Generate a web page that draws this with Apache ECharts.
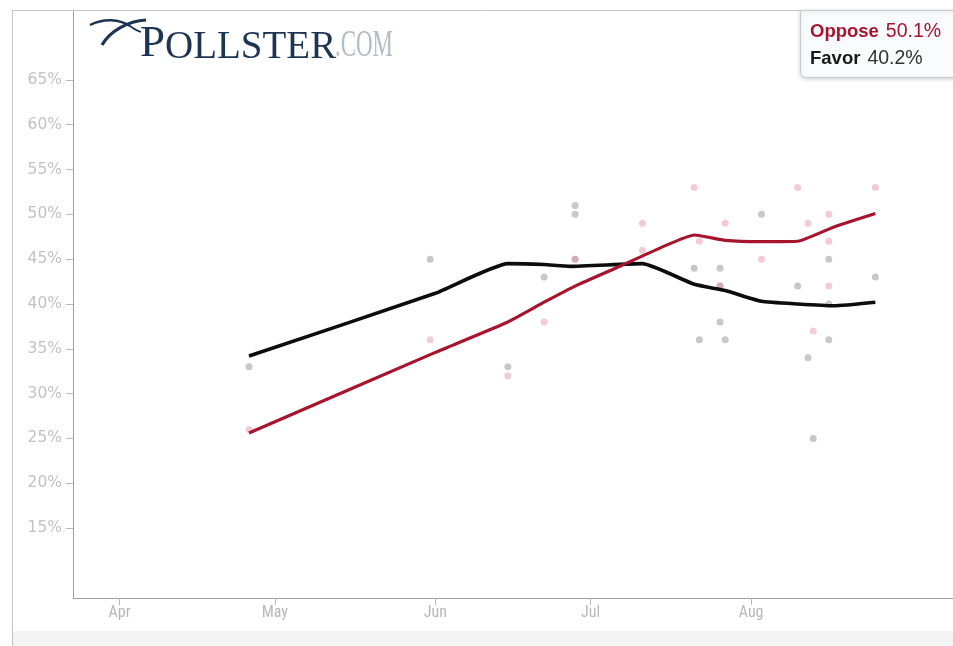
<!DOCTYPE html>
<html>
<head>
<meta charset="utf-8">
<style>
html,body{margin:0;padding:0;background:#fff;}
#chart{width:953px;height:646px;}
</style>
<script src="https://cdn.jsdelivr.net/npm/echarts@6/dist/echarts.min.js"></script>
</head>
<body>
<div id="chart"></div>
<script>
// ---- data ----
const monthTicks = ['2009-04-01', '2009-05-01', '2009-06-01', '2009-07-01', '2009-08-01'];
const monthLabels = ['Apr', 'May', 'Jun', 'Jul', 'Aug'];
const yTicks = [15, 20, 25, 30, 35, 40, 45, 50, 55, 60, 65];

const favorTrendDates = ['2009-04-26', '2009-06-01', '2009-06-15', '2009-06-22', '2009-06-27', '2009-07-11', '2009-07-21', '2009-07-27', '2009-08-03', '2009-08-10', '2009-08-17', '2009-08-25'];
const favorTrendValues = [34.2, 41.2, 44.5, 44.4, 44.2, 44.5, 42.2, 41.5, 40.3, 40.0, 39.8, 40.2];

const opposeTrendDates = ['2009-04-26', '2009-06-01', '2009-06-15', '2009-06-22', '2009-06-28', '2009-07-07', '2009-07-15', '2009-07-21', '2009-07-27', '2009-08-03', '2009-08-10', '2009-08-17', '2009-08-25'];
const opposeTrendValues = [25.6, 34.6, 38.0, 40.2, 42.0, 44.3, 46.4, 47.7, 47.1, 46.95, 47.0, 48.6, 50.1];

const favorPollDates = ['2009-04-26', '2009-05-31', '2009-06-15', '2009-06-22', '2009-06-28', '2009-06-28', '2009-06-28', '2009-07-21', '2009-07-22', '2009-07-26', '2009-07-26', '2009-07-26', '2009-07-27', '2009-08-03', '2009-08-10', '2009-08-12', '2009-08-13', '2009-08-16', '2009-08-16', '2009-08-16', '2009-08-25'];
const favorPollValues = [33, 45, 33, 43, 51, 50, 45, 44, 36, 44, 42, 38, 36, 50, 42, 34, 25, 45, 40, 36, 43];

const opposePollDates = ['2009-04-26', '2009-05-31', '2009-06-15', '2009-06-22', '2009-06-28', '2009-07-11', '2009-07-11', '2009-07-21', '2009-07-22', '2009-07-26', '2009-07-27', '2009-08-03', '2009-08-10', '2009-08-12', '2009-08-13', '2009-08-16', '2009-08-16', '2009-08-16', '2009-08-25'];
const opposePollValues = [26, 36, 32, 38, 45, 49, 46, 53, 47, 42, 49, 45, 53, 49, 37, 50, 47, 42, 53];

const xMin = '2009-03-23';
const xMax = '2009-09-09';
const yMin = 7.2;
const yMax = 72.8;

// ---- helpers ----
function ts(s) { const p = s.split('-').map(Number); return Date.UTC(p[0], p[1] - 1, p[2]); }
function pairs(d, v) { return d.map((x, i) => [ts(x), v[i]]); }
const monthTickTimes = monthTicks.map(ts);

const chart = echarts.init(document.getElementById('chart'), null, { renderer: 'canvas' });

const navy = '#1c3553';
const red = '#a8142e';
const serif = '"Liberation Serif", "Times New Roman", serif';
const sans = '"Liberation Sans", Arial, sans-serif';
const lastOppose = opposeTrendValues[opposeTrendValues.length - 1];
const lastFavor = favorTrendValues[favorTrendValues.length - 1];

const option = {
  animation: false,
  backgroundColor: '#ffffff',
  grid: { left: 73, right: 0, top: 10, bottom: 48, containLabel: false },
  xAxis: {
    type: 'value',
    min: ts(xMin),
    max: ts(xMax),
    axisLine: { show: true, lineStyle: { color: '#a0a0a0', width: 1 } },
    axisTick: { show: true, customValues: monthTickTimes, length: 7, lineStyle: { color: '#b8b8b8' } },
    axisLabel: {
      customValues: monthTickTimes,
      margin: 7,
      color: '#b8b8b8',
      fontSize: 16,
      fontFamily: '"Liberation Sans Narrow", "Roboto Condensed", "DejaVu Sans Condensed", sans-serif',
      formatter: function (v) {
        let best = -1, bd = Infinity;
        monthTickTimes.forEach((t, i) => { const d = Math.abs(t - v); if (d < bd) { bd = d; best = i; } });
        return bd < 86400000 * 3 ? monthLabels[best] : '';
      }
    },
    splitLine: { show: false }
  },
  yAxis: {
    type: 'value',
    min: yMin,
    max: yMax,
    axisLine: { show: true, lineStyle: { color: '#a0a0a0', width: 1 } },
    axisTick: { show: true, customValues: yTicks, length: 7, lineStyle: { color: '#b8b8b8' } },
    axisLabel: {
      customValues: yTicks,
      margin: 11,
      color: '#c2c2c2',
      fontSize: 15.5,
      fontFamily: '"DejaVu Sans", sans-serif',
      formatter: function (v) { return Math.round(v) + '%'; }
    },
    splitLine: { show: false }
  },
  series: [
    {
      name: 'FavorPolls', type: 'scatter', data: pairs(favorPollDates, favorPollValues),
      symbolSize: 7, itemStyle: { color: 'rgba(140,140,140,0.6)' }, z: 2
    },
    {
      name: 'OpposePolls', type: 'scatter', data: pairs(opposePollDates, opposePollValues),
      symbolSize: 7, itemStyle: { color: 'rgba(228,135,160,0.55)' }, z: 2
    },
    {
      name: 'Favor', type: 'line', data: pairs(favorTrendDates, favorTrendValues),
      showSymbol: false, smooth: 0.15, lineStyle: { color: '#0d0d0d', width: 3.6 }, z: 3
    },
    {
      name: 'Oppose', type: 'line', data: pairs(opposeTrendDates, opposeTrendValues),
      showSymbol: false, smooth: 0.15, lineStyle: { color: red, width: 3.2 }, z: 4
    }
  ],
  graphic: [
    { type: 'line', shape: { x1: 12.5, y1: 10.5, x2: 953, y2: 10.5 }, style: { stroke: '#c4c4c4', lineWidth: 1 }, z: 1 },
    { type: 'line', shape: { x1: 12.5, y1: 10.5, x2: 12.5, y2: 646 }, style: { stroke: '#c4c4c4', lineWidth: 1 }, z: 1 },
    { type: 'rect', shape: { x: 13, y: 631, width: 940, height: 15 }, style: { fill: '#f4f4f4' }, z: 0 },
    // logo swoosh
    { type: 'bezierCurve', shape: { x1: 90, y1: 25, cpx1: 104, cpy1: 18, cpx2: 119, cpy2: 19, x2: 130, y2: 26 }, style: { stroke: navy, lineWidth: 2.4, fill: null }, z: 10 },
    { type: 'bezierCurve', shape: { x1: 130, y1: 26, cpx1: 134, cpy1: 29, cpx2: 137, cpy2: 31, x2: 141, y2: 32 }, style: { stroke: navy, lineWidth: 1.8, fill: null }, z: 10 },
    { type: 'bezierCurve', shape: { x1: 146, y1: 20, cpx1: 128, cpy1: 21, cpx2: 110, cpy2: 31, x2: 102, y2: 45 }, style: { stroke: navy, lineWidth: 3.2, fill: null }, z: 10 },
    // logo text
    {
      type: 'text', x: 140, y: 67, z: 10,
      style: {
        text: '{p|P}{o|OLLSTER}',
        verticalAlign: 'bottom',
        rich: {
          p: { fontFamily: serif, fontSize: 45, fill: navy, verticalAlign: 'bottom' },
          o: { fontFamily: serif, fontSize: 39, fill: navy, verticalAlign: 'bottom' }
        }
      }
    },
    {
      type: 'text', x: 335, y: 65, z: 10, scaleX: 0.62,
      style: { text: '.COM', verticalAlign: 'bottom', fontFamily: serif, fontSize: 37, fill: '#b4bcc4' }
    },
    // legend box
    {
      type: 'rect', shape: { x: 800.5, y: 10.5, width: 160, height: 67, r: [0, 0, 0, 5] }, z: 20,
      style: { fill: '#f9fbfc', stroke: '#c8ccd0', lineWidth: 1, shadowBlur: 4, shadowColor: 'rgba(0,0,0,0.18)', shadowOffsetY: 1 }
    },
    {
      type: 'text', x: 810, y: 32, z: 21,
      style: {
        text: '{b|Oppose}{n|' + lastOppose.toFixed(1) + '%}', verticalAlign: 'middle',
        rich: {
          b: { fontFamily: sans, fontSize: 18.5, fontWeight: 'bold', fill: red },
          n: { fontFamily: sans, fontSize: 19.5, fill: red, padding: [0, 0, 0, 7] }
        }
      }
    },
    {
      type: 'text', x: 810, y: 59, z: 21,
      style: {
        text: '{b|Favor}{n|' + lastFavor.toFixed(1) + '%}', verticalAlign: 'middle',
        rich: {
          b: { fontFamily: sans, fontSize: 18.5, fontWeight: 'bold', fill: '#1a1a1a' },
          n: { fontFamily: sans, fontSize: 19.5, fill: '#333333', padding: [0, 0, 0, 7] }
        }
      }
    }
  ]
};
chart.setOption(option);
</script>
</body>
</html>
